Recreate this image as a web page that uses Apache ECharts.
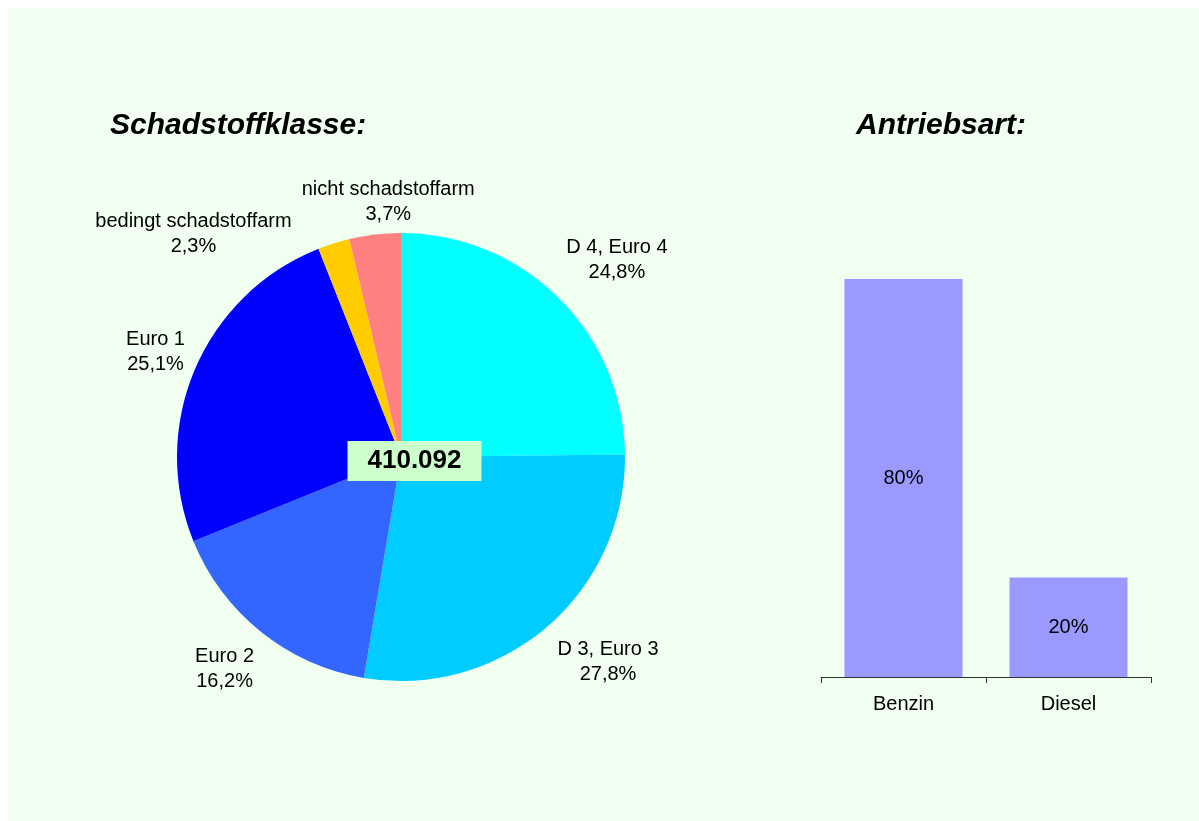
<!DOCTYPE html>
<html>
<head>
<meta charset="utf-8">
<script src="https://cdn.jsdelivr.net/npm/echarts@6/dist/echarts.min.js"></script>
<style>
  body { margin: 0; background: #fff; }
  #chart { position: absolute; left: 8px; top: 8px; width: 1191px; height: 813px; }
</style>
</head>
<body>
<div id="chart"></div>
<script>
// Schadstoffklasse (Anteil in %)
const klassen = ["D 4, Euro 4", "D 3, Euro 3", "Euro 2", "Euro 1", "bedingt schadstoffarm", "nicht schadstoffarm"];
const klassenAnteil = [24.8, 27.8, 16.2, 25.1, 2.3, 3.7];
const klassenFarben = ["#00FFFF", "#00CCFF", "#3366FF", "#0000FF", "#FFCC00", "#FF8080"];
const gesamt = "410.092";

// Antriebsart (Anteil in %)
const antrieb = ["Benzin", "Diesel"];
const antriebAnteil = [80, 20];

const pieCenter = [393, 449];
const pieR = 224;
// label placement: angle shift (deg) and distance from the centre
const labelNudge = [[-3, 292], [4.8, 291], [-1, 276], [0, 267], [25.4, 305], [-3.8, 255]];

function fmt(v) {
  return v.toFixed(1).replace(".", ",") + "%";
}

// mid angles of the slices, clockwise from 12 o'clock
const total = klassenAnteil.reduce((a, b) => a + b, 0);
const midAngles = [];
let acc = 0;
klassenAnteil.forEach(function (v) {
  midAngles.push(90 - (acc + v / 2) / total * 360);
  acc += v;
});

let myChart = echarts.init(document.getElementById("chart"));
myChart.setOption({
  backgroundColor: "#F0FFF0",
  animation: false,
  textStyle: { fontFamily: "Liberation Sans, Arial, sans-serif" },
  title: [
    {
      text: "Schadstoffklasse:",
      left: 102,
      top: 103,
      padding: 0,
      textStyle: { fontSize: 30, fontWeight: "bold", fontStyle: "italic", color: "#000" }
    },
    {
      text: "Antriebsart:",
      left: 848,
      top: 103,
      padding: 0,
      textStyle: { fontSize: 30, fontWeight: "bold", fontStyle: "italic", color: "#000" }
    }
  ],
  grid: { left: 813, right: 48, top: 171.5, bottom: 144 },
  xAxis: {
    type: "category",
    data: antrieb,
    axisLine: { lineStyle: { color: "#333", width: 1 } },
    axisTick: { show: true, length: 6, alignWithLabel: false, lineStyle: { color: "#333" } },
    axisLabel: { color: "#000", fontSize: 20, margin: 17 }
  },
  yAxis: { type: "value", min: 0, max: 100, show: false },
  series: [
    {
      type: "pie",
      center: pieCenter,
      radius: pieR,
      startAngle: 90,
      clockwise: true,
      data: klassen.map(function (k, i) {
        return { name: k, value: klassenAnteil[i], itemStyle: { color: klassenFarben[i] } };
      }),
      label: {
        show: true,
        position: "outside",
        color: "#000",
        fontSize: 20,
        lineHeight: 25,
        align: "center",
        formatter: function (p) {
          return p.name + "\n" + fmt(p.value);
        }
      },
      labelLine: { show: false },
      labelLayout: function (p) {
        const n = labelNudge[p.dataIndex];
        const a = (midAngles[p.dataIndex] + n[0]) * Math.PI / 180;
        return {
          x: pieCenter[0] + n[1] * Math.cos(a),
          y: pieCenter[1] - n[1] * Math.sin(a),
          align: "center",
          verticalAlign: "middle"
        };
      },
      emphasis: { disabled: true }
    },
    {
      type: "bar",
      data: antriebAnteil,
      barWidth: "71.5%",
      itemStyle: { color: "#9999FF" },
      label: {
        show: true,
        position: "inside",
        color: "#000",
        fontSize: 20,
        formatter: "{c}%"
      }
    }
  ],
  graphic: [
    {
      type: "text",
      x: 406.5,
      y: 453,
      z: 100,
      style: {
        text: gesamt,
        font: "bold 26px Liberation Sans, Arial, sans-serif",
        fill: "#000",
        backgroundColor: "#CCFFCC",
        padding: [7, 20, 7, 20],
        align: "center",
        verticalAlign: "middle"
      }
    }
  ]
});
window.onresize = function () {
  myChart.resize();
};
</script>
</body>
</html>
